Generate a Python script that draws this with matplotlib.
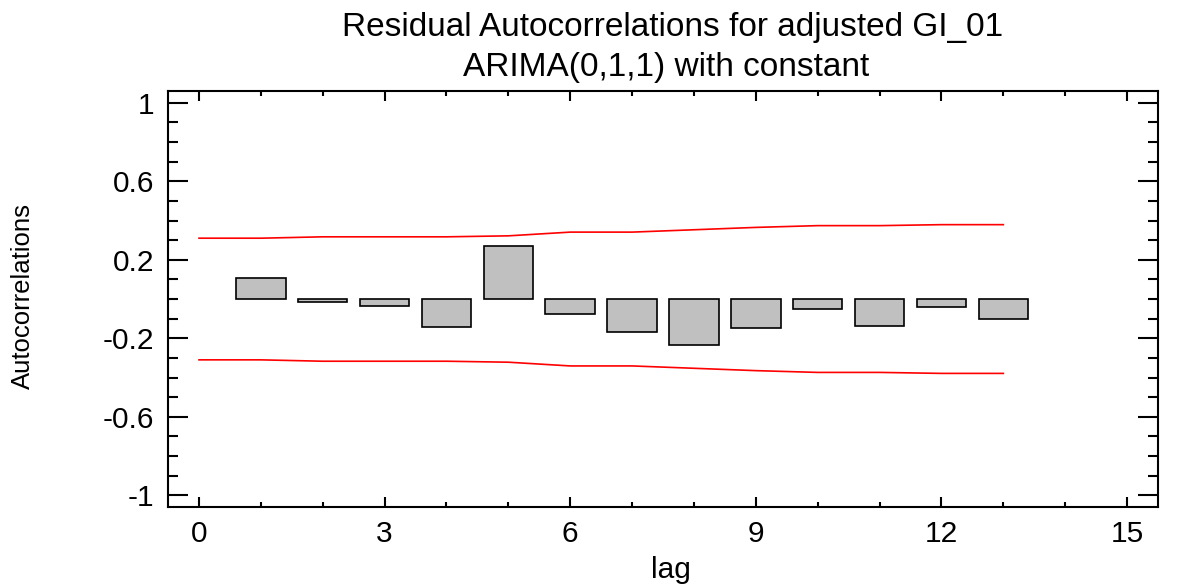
import matplotlib.pyplot as plt
from matplotlib.ticker import MultipleLocator

# Residual autocorrelations by lag
lags = [1, 2, 3, 4, 5, 6, 7, 8, 9, 10, 11, 12, 13]
acf = [0.105, -0.015, -0.034, -0.143, 0.270, -0.075, -0.170, -0.235, -0.147, -0.052, -0.136, -0.040, -0.100]

# 95% probability limits
limit_lags = [0, 1, 2, 3, 4, 5, 6, 7, 8, 9, 10, 11, 12, 13]
upper = [0.310, 0.310, 0.317, 0.317, 0.317, 0.322, 0.341, 0.341, 0.353, 0.365, 0.374, 0.374, 0.379, 0.379]
lower = [-u for u in upper]

plt.rcParams['font.family'] = ['Liberation Sans', 'DejaVu Sans']

fig = plt.figure(figsize=(11.86, 5.85), dpi=100)
ax = fig.add_axes([0.1417, 0.1333, 0.8347, 0.7111])

ax.bar(lags, acf, width=0.8, color='#c0c0c0', edgecolor='black', linewidth=1.2, zorder=2)
ax.plot(limit_lags, upper, color='red', linewidth=1.2, zorder=3)
ax.plot(limit_lags, lower, color='red', linewidth=1.2, zorder=3)

ax.set_xlim(-0.5, 15.5)
ax.set_ylim(-1.06, 1.06)
ax.xaxis.set_major_locator(MultipleLocator(3))
ax.xaxis.set_minor_locator(MultipleLocator(1))
ax.yaxis.set_minor_locator(MultipleLocator(0.1))
ax.set_yticks([-1, -0.6, -0.2, 0.2, 0.6, 1])
ax.set_yticklabels(['-1', '-0.6', '-0.2', '0.2', '0.6', '1'])

ax.tick_params(which='both', direction='in', top=True, right=True, width=1.5, labelsize=21.5)
ax.tick_params(axis='x', which='major', length=7.2, pad=9)
ax.tick_params(axis='x', which='minor', length=3.6)
ax.tick_params(axis='y', which='major', length=14.4, pad=10)
ax.tick_params(axis='y', which='minor', length=7.2)
for s in ax.spines.values():
    s.set_linewidth(1.5)

fig.text(0.566, 0.026, 'lag', fontsize=21.5, ha='center', va='center')
fig.text(0.019, 0.494, 'Autocorrelations', rotation=90, fontsize=18.5, ha='center', va='center')

fig.text(0.567, 0.953, 'Residual Autocorrelations for adjusted GI_01', fontsize=24, ha='center', va='center')
fig.text(0.562, 0.885, 'ARIMA(0,1,1) with constant', fontsize=24, ha='center', va='center')

fig.savefig('out.png', dpi=100)
